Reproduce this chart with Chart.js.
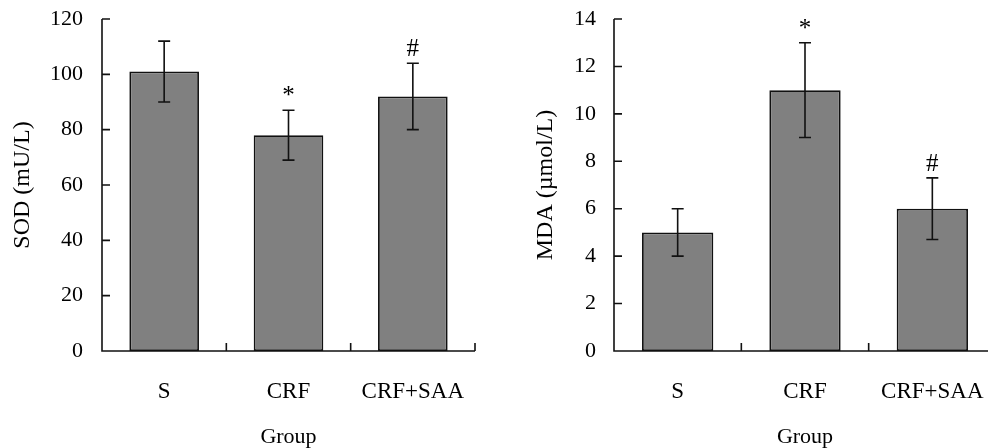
<!DOCTYPE html>
<html>
<head>
<meta charset="utf-8">
<script src="https://cdn.jsdelivr.net/npm/chart.js@4/dist/chart.umd.min.js"></script>
<style>
    html, body {
        margin: 0;
        padding: 0;
        background: #fff;
        overflow: hidden;
        width: 988px;
        height: 448px;
        position: relative;
    }
    .panel {
        position: absolute;
        top: 0;
        height: 448px;
    }
    #sodPanel { left: 0; width: 494px; }
    #mdaPanel { left: 494px; width: 510px; }
</style>
</head>
<body>
<div class="panel" id="sodPanel"><canvas id="sodChart" width="494" height="448" style="width:494px;height:448px"></canvas></div>
<div class="panel" id="mdaPanel"><canvas id="mdaChart" width="510" height="448" style="width:510px;height:448px"></canvas></div>
<script>
const groups = ['S', 'CRF', 'CRF+SAA'];

const sodMean = [101, 78, 92];
const sodErr = [11, 9, 12];
const sodMarks = ['', '*', '#'];

const mdaMean = [5, 11, 6];
const mdaErr = [1, 2, 1.3];
const mdaMarks = ['', '*', '#'];

const serif = '"Liberation Serif", "Times New Roman", serif';
const ink = '#000';

// axes with inward ticks, drawn by hand
const axisPlugin = {
    id: 'axisLines',
    afterDatasetsDraw(chart) {
        const { ctx, chartArea, scales } = chart;
        const x = scales.x, y = scales.y;
        const tick = 8;
        ctx.save();
        ctx.strokeStyle = '#111';
        ctx.lineWidth = 1.6;
        ctx.beginPath();
        ctx.moveTo(chartArea.left, chartArea.top);
        ctx.lineTo(chartArea.left, chartArea.bottom);
        ctx.lineTo(chartArea.right, chartArea.bottom);
        y.ticks.forEach(t => {
            const py = y.getPixelForValue(t.value);
            ctx.moveTo(chartArea.left, py);
            ctx.lineTo(chartArea.left + tick, py);
        });
        const n = chart.data.labels.length;
        for (let i = 0; i < n; i++) {
            const px = x.getPixelForValue(i + 0.5);
            ctx.moveTo(px, chartArea.bottom);
            ctx.lineTo(px, chartArea.bottom - tick);
        }
        ctx.stroke();
        ctx.restore();
    }
};

// error bars and significance marks
const errorPlugin = {
    id: 'errorBars',
    afterDatasetsDraw(chart, args, opts) {
        const { ctx, scales } = chart;
        const y = scales.y;
        const meta = chart.getDatasetMeta(0);
        const ds = chart.data.datasets[0];
        ctx.save();
        ctx.strokeStyle = '#111';
        ctx.lineWidth = 1.6;
        meta.data.forEach((bar, i) => {
            const top = y.getPixelForValue(ds.data[i] + opts.err[i]);
            const bot = y.getPixelForValue(ds.data[i] - opts.err[i]);
            ctx.beginPath();
            ctx.moveTo(bar.x, top);
            ctx.lineTo(bar.x, bot);
            ctx.moveTo(bar.x - 6, top);
            ctx.lineTo(bar.x + 6, top);
            ctx.moveTo(bar.x - 6, bot);
            ctx.lineTo(bar.x + 6, bot);
            ctx.stroke();
            if (opts.marks[i]) {
                ctx.fillStyle = ink;
                ctx.font = '25px ' + serif;
                ctx.textAlign = 'center';
                ctx.textBaseline = 'alphabetic';
                ctx.fillText(opts.marks[i], bar.x, top - 7);
            }
        });
        ctx.restore();
    }
};

function drawPanel(canvasId, means, errs, marks, yMax, yStep, yTitle, yWidth, titlePad, tickPad, rightPad) {
    const ctx = document.getElementById(canvasId).getContext('2d');
    new Chart(ctx, {
        type: 'bar',
        data: {
            labels: groups,
            datasets: [{
                data: means,
                backgroundColor: '#808080',
                borderColor: '#111',
                borderWidth: 1.8,
                borderSkipped: false,
                categoryPercentage: 1,
                barPercentage: 0.56
            }]
        },
        plugins: [axisPlugin, errorPlugin],
        options: {
            responsive: false,
            animation: false,
            layout: { padding: { top: 19, right: rightPad, left: 0, bottom: 0 } },
            plugins: {
                legend: { display: false },
                tooltip: { enabled: false },
                errorBars: { err: errs, marks: marks }
            },
            scales: {
                x: {
                    grid: { display: false, drawTicks: false },
                    border: { display: false },
                    ticks: { color: ink, font: { family: serif, size: 23 }, padding: 27 },
                    title: {
                        display: true, text: 'Group', color: ink,
                        font: { family: serif, size: 22, lineHeight: 1 },
                        padding: { top: 20, bottom: 0 }
                    },
                    afterFit: s => {
                        s.height = 97;
                        s.paddingLeft = 0;
                        s.paddingRight = 0;
                    }
                },
                y: {
                    min: 0, max: yMax,
                    grid: { display: false, drawTicks: false },
                    border: { display: false },
                    ticks: { stepSize: yStep, color: ink, font: { family: serif, size: 22 }, padding: tickPad },
                    title: {
                        display: true, text: yTitle, color: ink,
                        font: { family: serif, size: 24, lineHeight: 1 },
                        padding: { top: titlePad, bottom: 0 }
                    },
                    afterFit: s => {
                        s.width = yWidth;
                        s.paddingTop = 0;
                        s.paddingBottom = 0;
                    }
                }
            }
        }
    });
}

drawPanel('sodChart', sodMean, sodErr, sodMarks, 120, 20, 'SOD (mU/L)', 102, 11, 19, 19);
drawPanel('mdaChart', mdaMean, mdaErr, mdaMarks, 14, 2, 'MDA (µmol/L)', 120, 40, 18, 8);
</script>
</body>
</html>
